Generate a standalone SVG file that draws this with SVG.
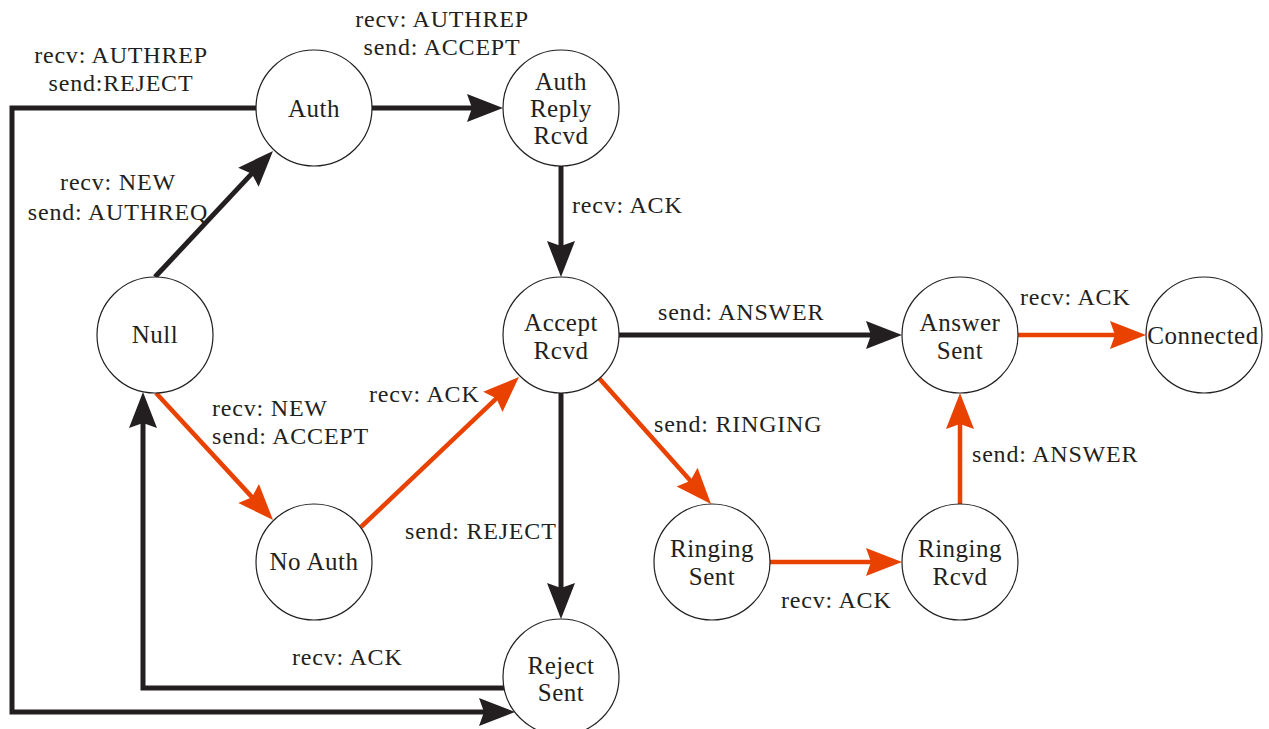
<svg xmlns="http://www.w3.org/2000/svg" width="1269" height="729" viewBox="0 0 1269 729">
<style>
.n{fill:#fff;stroke:#231f20;stroke-width:1.2}
.t{font-family:"Liberation Serif","Times New Roman",serif;font-size:24px;fill:#231f20;letter-spacing:0.8px}
.nt{font-size:25px;letter-spacing:0.5px}
.c{text-anchor:middle}
.k{fill:none;stroke:#231f20;stroke-width:5}
.o{fill:none;stroke:#e94200;stroke-width:4.5}
</style>
<defs>
<marker id="ak" markerUnits="userSpaceOnUse" viewBox="-7 -15 38 30" refX="0" refY="0" markerWidth="38" markerHeight="30" orient="auto">
<path d="M30,0 L-6,-14 L-1,0 L-6,14 Z" fill="#231f20"/>
</marker>
<marker id="ao" markerUnits="userSpaceOnUse" viewBox="-7 -15 38 30" refX="0" refY="0" markerWidth="38" markerHeight="30" orient="auto">
<path d="M30,0 L-6,-14 L-1,0 L-6,14 Z" fill="#e94200"/>
</marker>
</defs>
<rect width="1269" height="729" fill="#fff"/>
<g id="connectors">
<path class="k" d="M155,277 L252.5,172.9" marker-end="url(#ak)"/>
<path class="k" d="M372,108 H473" marker-end="url(#ak)"/>
<path class="k" d="M256,108 H12 V712 H485" marker-end="url(#ak)"/>
<path class="k" d="M561,166 V247" marker-end="url(#ak)"/>
<path class="o" d="M156,393 L252.7,497.9" marker-end="url(#ao)"/>
<path class="o" d="M361,527 L497.2,397.7" marker-end="url(#ao)"/>
<path class="k" d="M561,393 V589" marker-end="url(#ak)"/>
<path class="k" d="M504,688 H143 V422" marker-end="url(#ak)"/>
<path class="k" d="M619,335 H872" marker-end="url(#ak)"/>
<path class="o" d="M598,377 L691.1,481.6" marker-end="url(#ao)"/>
<path class="o" d="M770,562 H872" marker-end="url(#ao)"/>
<path class="o" d="M960,504 V423" marker-end="url(#ao)"/>
<path class="o" d="M1018,335 H1116" marker-end="url(#ao)"/>
</g>
<g id="edge-labels" class="t">
<text class="c" x="121" y="63">recv: AUTHREP</text>
<text class="c" x="121" y="91">send:REJECT</text>
<text class="c" x="442" y="27">recv: AUTHREP</text>
<text class="c" x="442" y="55">send: ACCEPT</text>
<text class="c" x="118" y="190">recv: NEW</text>
<text class="c" x="118" y="220">send: AUTHREQ</text>
<text x="572" y="213">recv: ACK</text>
<text x="658" y="320">send: ANSWER</text>
<text x="1020" y="305">recv: ACK</text>
<text x="212" y="416">recv: NEW</text>
<text x="212" y="444">send: ACCEPT</text>
<text x="369" y="402">recv: ACK</text>
<text x="654" y="432">send: RINGING</text>
<text x="972" y="462">send: ANSWER</text>
<text x="405" y="539">send: REJECT</text>
<text x="781" y="608">recv: ACK</text>
<text x="292" y="665">recv: ACK</text>
</g>
<g id="auth"><circle class="n" cx="314" cy="108" r="58"/><text class="t nt c" x="314" y="117">Auth</text></g>
<g id="auth-reply-rcvd"><circle class="n" cx="561" cy="108" r="58"/><text class="t nt c" x="561" y="90">Auth</text><text class="t nt c" x="561" y="117">Reply</text><text class="t nt c" x="561" y="144">Rcvd</text></g>
<g id="null"><circle class="n" cx="155" cy="335" r="58"/><text class="t nt c" x="155" y="343">Null</text></g>
<g id="accept-rcvd"><circle class="n" cx="561" cy="335" r="58"/><text class="t nt c" x="561" y="331">Accept</text><text class="t nt c" x="561" y="359">Rcvd</text></g>
<g id="no-auth"><circle class="n" cx="314" cy="562" r="58"/><text class="t nt c" x="314" y="570">No Auth</text></g>
<g id="reject-sent"><circle class="n" cx="561" cy="677" r="58"/><text class="t nt c" x="561" y="674">Reject</text><text class="t nt c" x="561" y="701">Sent</text></g>
<g id="answer-sent"><circle class="n" cx="960" cy="335" r="58"/><text class="t nt c" x="960" y="331">Answer</text><text class="t nt c" x="960" y="359">Sent</text></g>
<g id="connected"><circle class="n" cx="1204" cy="335" r="58"/><text class="t nt c" x="1203" y="344">Connected</text></g>
<g id="ringing-sent"><circle class="n" cx="712" cy="562" r="58"/><text class="t nt c" x="712" y="557">Ringing</text><text class="t nt c" x="712" y="585">Sent</text></g>
<g id="ringing-rcvd"><circle class="n" cx="960" cy="562" r="58"/><text class="t nt c" x="960" y="557">Ringing</text><text class="t nt c" x="960" y="585">Rcvd</text></g>
</svg>
